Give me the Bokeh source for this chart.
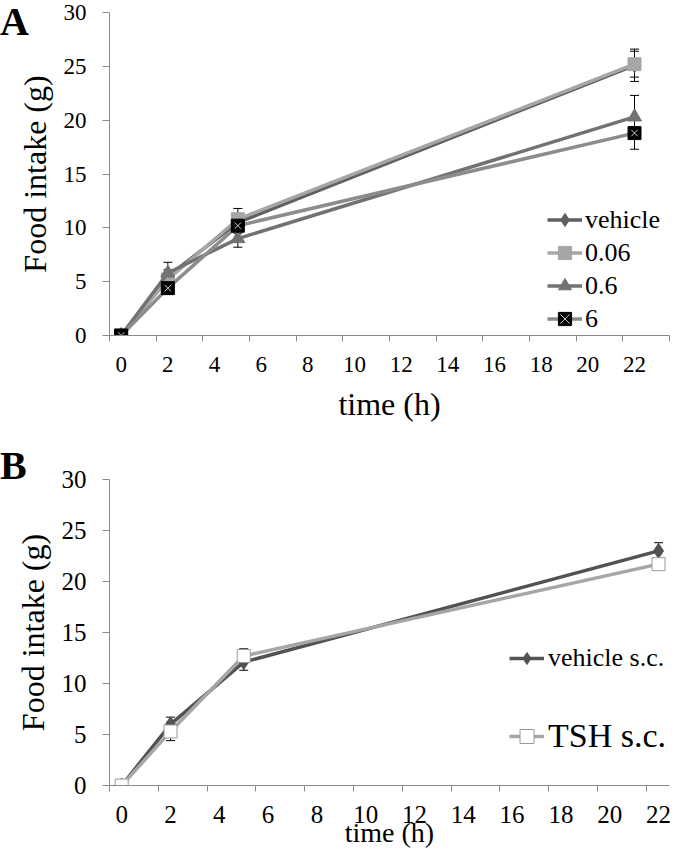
from bokeh.plotting import figure
from bokeh.models import (FixedTicker, Legend, LegendItem, Whisker, Div,
                          ColumnDataSource, TeeHead, Range1d)
from bokeh.layouts import column
from bokeh.embed import file_html
from bokeh.resources import INLINE

FONT = "Liberation Serif"
AXIS_GRAY = "#8a8a8a"

# ---------------- data ----------------
time_h = [0, 2, 5, 22]

# Panel A
vehicle_a = [0, 5.5, 10.5, 25.1]
vehicle_a_err = [0, 0.6, 0.8, 1.5]
dose_006 = [0, 5.2, 10.8, 25.2]
dose_006_err = [0, 0.5, 1.0, 1.2]
dose_06 = [0, 5.8, 9.0, 20.3]
dose_06_err = [0, 1.0, 0.8, 2.0]
dose_6 = [0, 4.4, 10.2, 18.8]
dose_6_err = [0, 0.5, 0.7, 1.5]

# Panel B
vehicle_sc = [0, 6.0, 12.1, 23.0]
vehicle_sc_err = [0, 0.7, 0.8, 0.8]
tsh_sc = [0, 5.3, 12.7, 21.7]
tsh_sc_err = [0, 0.9, 0.7, 0.4]

y_ticks = [0, 5, 10, 15, 20, 25, 30]
x_label_ticks = [0, 2, 4, 6, 8, 10, 12, 14, 16, 18, 20, 22]
x_mark_ticks = [-0.5, 1.5, 3.5, 5.5, 7.5, 9.5, 11.5, 13.5, 15.5, 17.5, 19.5, 21.5, 23.5]


def base_figure(height, x_end, tick_px, border_top, border_bottom, border_right):
    p = figure(width=692, height=height, x_range=Range1d(-0.5, x_end),
               y_range=Range1d(0, 30), output_backend="svg", toolbar_location=None,
               min_border_left=109, min_border_right=border_right,
               min_border_top=border_top, min_border_bottom=border_bottom,
               outline_line_color=None, background_fill_alpha=0, border_fill_alpha=0)
    p.xgrid.visible = False
    p.ygrid.visible = False
    ya = p.yaxis[0]
    ya.ticker = FixedTicker(ticks=y_ticks, minor_ticks=[])
    ya.axis_line_color = AXIS_GRAY
    ya.major_tick_line_color = AXIS_GRAY
    ya.major_tick_out = 7
    ya.major_tick_in = 0
    ya.minor_tick_line_color = None
    ya.major_label_text_font = FONT
    ya.major_label_text_font_size = tick_px
    ya.major_label_text_color = "black"
    ya.major_label_standoff = 16
    ya.axis_label = "Food intake (g)"
    ya.axis_label_text_font = FONT
    ya.axis_label_text_font_style = "normal"
    ya.axis_label_text_font_size = "32px"
    ya.axis_label_text_color = "black"
    ya.axis_label_standoff = 8
    xa = p.xaxis[0]
    xa.ticker = FixedTicker(ticks=x_label_ticks, minor_ticks=x_mark_ticks)
    xa.axis_line_color = AXIS_GRAY
    xa.major_tick_line_color = None
    xa.major_tick_out = 0
    xa.major_tick_in = 0
    xa.minor_tick_line_color = AXIS_GRAY
    xa.minor_tick_out = 6
    xa.minor_tick_in = 0
    xa.major_label_text_font = FONT
    xa.major_label_text_font_size = tick_px
    xa.major_label_text_color = "black"
    xa.major_label_standoff = 15
    xa.axis_label = "time (h)"
    xa.axis_label_text_font = FONT
    xa.axis_label_text_font_style = "normal"
    xa.axis_label_text_color = "black"
    return p


def add_series(p, y, err, color, marker, size, fill, mline=None):
    src = ColumnDataSource(dict(
        x=time_h, y=y,
        upper=[v + e for v, e in zip(y, err)],
        lower=[v - e for v, e in zip(y, err)]))
    w = Whisker(source=src, base="x", upper="upper", lower="lower",
                line_color="black", line_width=1,
                upper_head=TeeHead(size=9, line_color="black", line_width=1),
                lower_head=TeeHead(size=9, line_color="black", line_width=1))
    p.add_layout(w)
    line = p.line("x", "y", source=src, line_color=color, line_width=3.5)
    m = p.scatter("x", "y", source=src, marker=marker, size=size,
                  fill_color=fill, line_color=mline or fill, line_width=1)
    return [line, m]


def panel_letter(text, top):
    html = ('<div style="font-family: \'Liberation Serif\'; font-size: 40px; '
            'font-weight: bold; line-height: 1; color: black; margin: 0; padding: 0;">'
            + text + '</div>')
    # zero net height: it overlaps the figure that follows it
    return Div(text=html, width=45, height=46, margin=(top, 0, -(top + 46), 0))


# ---------------- Panel A ----------------
pa = base_figure(433, 23.5, "23px", 12, 98, 23)
pa.xaxis[0].axis_label_text_font_size = "32px"
pa.xaxis[0].axis_label_standoff = 11

r_veh = add_series(pa, vehicle_a, vehicle_a_err, "#5f5f5f", "diamond", 15, "#5f5f5f")
r_006 = add_series(pa, dose_006, dose_006_err, "#a6a6a6", "square", 13, "#a6a6a6")
r_06 = add_series(pa, dose_06, dose_06_err, "#727272", "triangle", 14, "#727272")
r_6 = add_series(pa, dose_6, dose_6_err, "#8c8c8c", "square", 13, "black", "black")
r_6x = pa.scatter(time_h, dose_6, marker="x", size=9, line_color="#d0d0d0", line_width=1)
r_6.append(r_6x)

leg_a = Legend(items=[LegendItem(label="vehicle", renderers=r_veh),
                      LegendItem(label="0.06", renderers=r_006),
                      LegendItem(label="0.6", renderers=r_06),
                      LegendItem(label="6", renderers=r_6)],
               location=(438, 0), glyph_width=35, glyph_height=33, spacing=0,
               padding=0, margin=0, label_standoff=3, label_text_font=FONT,
               label_text_font_size="26px", label_text_color="black",
               border_line_color=None, background_fill_alpha=0)
pa.add_layout(leg_a)

# ---------------- Panel B ----------------
pb = base_figure(418, 22.45, "25px", 46, 66, 0)
pb.xaxis[0].major_label_standoff = 14
pb.xaxis[0].axis_label_text_font_size = "28px"
pb.xaxis[0].axis_label_standoff = -9

r_vsc = add_series(pb, vehicle_sc, vehicle_sc_err, "#525252", "diamond", 15, "#525252")
r_tsh = add_series(pb, tsh_sc, tsh_sc_err, "#a6a6a6", "square", 13, "white", "#9a9a9a")

leg_b1 = Legend(items=[LegendItem(label="vehicle s.c.", renderers=r_vsc)],
                location=(400, 112), glyph_width=35, glyph_height=30, spacing=0,
                padding=0, margin=0, label_standoff=4, label_text_font=FONT,
                label_text_font_size="26px", label_text_color="black",
                border_line_color=None, background_fill_alpha=0)
leg_b2 = Legend(items=[LegendItem(label="TSH s.c.", renderers=r_tsh)],
                location=(400, 27), glyph_width=35, glyph_height=44, spacing=0,
                padding=0, margin=0, label_standoff=4, label_text_font=FONT,
                label_text_font_size="34px", label_text_color="black",
                border_line_color=None, background_fill_alpha=0)
pb.add_layout(leg_b1)
pb.add_layout(leg_b2)

layout = column(panel_letter("A", 2), pa, panel_letter("B", 13), pb, spacing=0)
open("out.html", "w").write(file_html(layout, INLINE))
